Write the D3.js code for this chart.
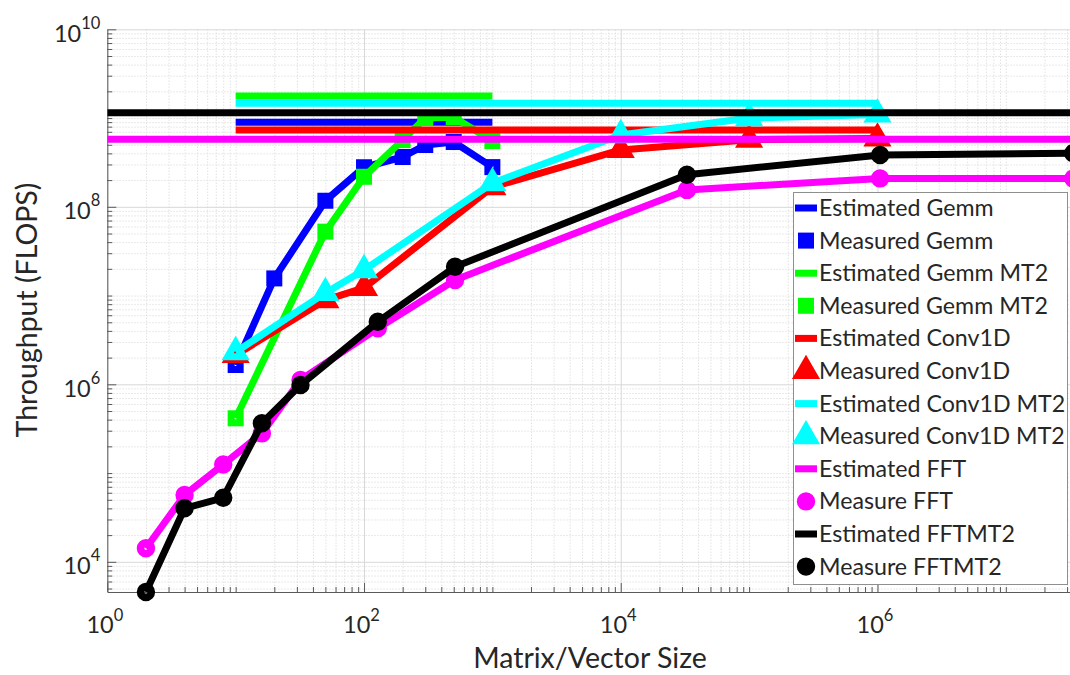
<!DOCTYPE html>
<html>
<head>
<meta charset="utf-8">
<script src="https://cdn.jsdelivr.net/npm/d3@7"></script>
<style>
  body { margin: 0; background: #fff; }
  svg { display: block; }
  text { font-family: Lato, "Open Sans", sans-serif; fill: #262626; }
</style>
</head>
<body>
<svg id="chart" width="1070" height="675"></svg>
<script>
// ---- Measured throughput (FLOPS) by matrix/vector size ----
const gemmSizes = [10, 20, 50, 100, 200, 300, 500, 1000];
const gemmMeasured = [1.65e6, 1.56e7, 1.17e8, 2.79e8, 3.64e8, 4.97e8, 5.37e8, 2.8e8];

const gemmMt2Sizes = [10, 50, 100, 200, 300, 500, 1000];
const gemmMt2Measured = [4.14e5, 5.25e7, 2.18e8, 5.65e8, 1.0e9, 1.02e9, 5.5e8];

const convSizes = [10, 50, 100, 1000, 1e4, 1e5, 1e6];
const convMeasured = [2.14e6, 8.9e6, 1.22e7, 1.67e8, 4.37e8, 5.7e8, 5.9e8];
const convMt2Measured = [2.31e6, 1.07e7, 1.94e7, 1.85e8, 6.44e8, 1.0e9, 1.1e9];

const fftSizes = [2, 4, 8, 16, 32, 128, 512, 32768, 1048576, 33554432];
const fftMeasured = [1.42e4, 5.66e4, 1.25e5, 2.8e5, 1.12e6, 4.27e6, 1.5e7, 1.55e8, 2.09e8, 2.08e8];
const fftMt2Measured = [4.57e3, 4.01e4, 5.27e4, 3.64e5, 9.82e5, 5.07e6, 2.11e7, 2.3e8, 3.84e8, 4.02e8];

// ---- Estimated peak throughput (constant), with the size range it spans ----
const gemmEstimated = 8.96e8,    gemmEstimatedSpan = [10, 1000];
const gemmMt2Estimated = 1.77e9, gemmMt2EstimatedSpan = [10, 1000];
const convEstimated = 7.33e8,    convEstimatedSpan = [10, 1e6];
const convMt2Estimated = 1.47e9, convMt2EstimatedSpan = [10, 1e6];
const fftEstimated = 5.77e8,     fftEstimatedSpan = [1, 33554432];
const fftMt2Estimated = 1.15e9,  fftMt2EstimatedSpan = [1, 33554432];

// ---- Axis tick values ----
const xMajorTicks = [1, 1e2, 1e4, 1e6];
const yMajorTicks = [1e4, 1e6, 1e8, 1e10];

// ---- Series, in drawing / legend order ----
const series = [
  { name: "Estimated Gemm",       color: "#0000ff", kind: "est", value: gemmEstimated,    span: gemmEstimatedSpan },
  { name: "Measured Gemm",        color: "#0000ff", kind: "meas", marker: "square",   xs: gemmSizes,    ys: gemmMeasured },
  { name: "Estimated Gemm MT2",   color: "#00ff00", kind: "est", value: gemmMt2Estimated, span: gemmMt2EstimatedSpan },
  { name: "Measured Gemm MT2",    color: "#00ff00", kind: "meas", marker: "square",   xs: gemmMt2Sizes, ys: gemmMt2Measured },
  { name: "Estimated Conv1D",     color: "#ff0000", kind: "est", value: convEstimated,    span: convEstimatedSpan },
  { name: "Measured Conv1D",      color: "#ff0000", kind: "meas", marker: "triangle", xs: convSizes,    ys: convMeasured },
  { name: "Estimated Conv1D MT2", color: "#00ffff", kind: "est", value: convMt2Estimated, span: convMt2EstimatedSpan },
  { name: "Measured Conv1D MT2",  color: "#00ffff", kind: "meas", marker: "triangle", xs: convSizes,    ys: convMt2Measured },
  { name: "Estimated FFT",        color: "#ff00ff", kind: "est", value: fftEstimated,     span: fftEstimatedSpan },
  { name: "Measure FFT",          color: "#ff00ff", kind: "meas", marker: "circle",   xs: fftSizes,     ys: fftMeasured },
  { name: "Estimated FFTMT2",     color: "#000000", kind: "est", value: fftMt2Estimated,  span: fftMt2EstimatedSpan },
  { name: "Measure FFTMT2",       color: "#000000", kind: "meas", marker: "circle",   xs: fftSizes,     ys: fftMt2Measured }
];

// ---- Layout ----
const plotLeft = 107.3, plotTop = 29.3, plotBottom = 592, plotRight = 1073.3;
const lineWidth = 7;

const svg = d3.select("#chart");

const xMax = d3.max(fftSizes);
const yMin = d3.min(fftMt2Measured);
const x = d3.scaleLog().domain([1, xMax]).range([plotLeft, plotRight]);
const y = d3.scaleLog().domain([yMin, 1e10]).range([plotBottom, plotTop]);

// minor positions: every k*10^n inside the domain that is not a labelled major
function minorValues(lo, hi, majors) {
  const out = [];
  for (let e = Math.floor(Math.log10(lo)); e <= Math.ceil(Math.log10(hi)); e++) {
    for (let k = 1; k < 10; k++) {
      const v = k * Math.pow(10, e);
      if (v < lo * 0.999 || v > hi * 1.001) continue;
      if (majors.some(m => Math.abs(m - v) / m < 1e-9)) continue;
      out.push(v);
    }
  }
  return out;
}
const xMinor = minorValues(1, xMax, xMajorTicks);
const yMinor = minorValues(yMin, 1e10, yMajorTicks);

// ---- Grid ----
const grid = svg.append("g");
function gridLayer(axis, transform, color, dash) {
  const g = grid.append("g").attr("transform", transform).call(axis);
  g.select(".domain").remove();
  g.selectAll(".tick line").attr("stroke", color).attr("stroke-width", 1)
    .attr("stroke-dasharray", dash);
  return g;
}
gridLayer(d3.axisBottom(x).tickValues(xMinor).tickSize(-(plotBottom - plotTop)).tickFormat(""),
  `translate(0,${plotBottom})`, "#e2e2e2", "1.5,1.5");
gridLayer(d3.axisLeft(y).tickValues(yMinor).tickSize(-(plotRight - plotLeft)).tickFormat(""),
  `translate(${plotLeft},0)`, "#e2e2e2", "1.5,1.5");
gridLayer(d3.axisBottom(x).tickValues(xMajorTicks).tickSize(-(plotBottom - plotTop)).tickFormat(""),
  `translate(0,${plotBottom})`, "#d8d8d8", null);
gridLayer(d3.axisLeft(y).tickValues(yMajorTicks).tickSize(-(plotRight - plotLeft)).tickFormat(""),
  `translate(${plotLeft},0)`, "#d8d8d8", null);

// ---- Axes ----
function powerLabels(sel, supSize, supDy) {
  sel.each(function (d) {
    const e = Math.round(Math.log10(d));
    const t = d3.select(this).text(null);
    t.append("tspan").text("10");
    t.append("tspan").attr("dy", supDy).attr("font-size", supSize).text(e);
  });
}

const axisColor = "#5a5a5a";
const xAxis = svg.append("g").attr("transform", `translate(0,${plotBottom})`)
  .call(d3.axisBottom(x).tickValues(xMajorTicks).tickSizeInner(-9).tickSizeOuter(0));
svg.append("g").attr("transform", `translate(0,${plotBottom})`)
  .call(d3.axisBottom(x).tickValues(xMinor).tickSizeInner(-5).tickSizeOuter(0).tickFormat(""))
  .call(g => g.select(".domain").remove())
  .selectAll(".tick line").attr("stroke", axisColor);
xAxis.select(".domain").attr("stroke", axisColor);
xAxis.selectAll(".tick line").attr("stroke", axisColor);
xAxis.selectAll(".tick text")
  .attr("y", 41).attr("dy", 0).attr("dx", -3)
  .attr("font-size", 23.5).attr("font-family", null).attr("fill", "#262626")
  .call(powerLabels, 16.5, -12);

const yAxis = svg.append("g").attr("transform", `translate(${plotLeft},0)`)
  .call(d3.axisLeft(y).tickValues(yMajorTicks).tickSizeInner(-9).tickSizeOuter(0));
svg.append("g").attr("transform", `translate(${plotLeft},0)`)
  .call(d3.axisLeft(y).tickValues(yMinor).tickSizeInner(-5).tickSizeOuter(0).tickFormat(""))
  .call(g => g.select(".domain").remove())
  .selectAll(".tick line").attr("stroke", axisColor);
yAxis.select(".domain").attr("stroke", axisColor);
yAxis.selectAll(".tick line").attr("stroke", axisColor);
yAxis.selectAll(".tick text")
  .attr("x", -7).attr("y", 12).attr("dy", 0)
  .attr("font-size", 23.5).attr("font-family", null).attr("fill", "#262626")
  .call(powerLabels, 16.5, -13);

// axis titles
svg.append("text")
  .attr("x", 590).attr("y", 668)
  .attr("text-anchor", "middle").attr("font-size", 28.5)
  .text("Matrix/Vector Size");
svg.append("text")
  .attr("transform", "translate(37,310) rotate(-90)")
  .attr("text-anchor", "middle").attr("font-size", 28.5)
  .text("Throughput (FLOPS)");

// ---- Marks ----
svg.append("clipPath").attr("id", "plot-clip")
  .append("rect").attr("x", plotLeft).attr("y", plotTop)
  .attr("width", plotRight - plotLeft).attr("height", plotBottom - plotTop);

const side = 9;            // square marker (stroke centreline)
const triSide = 16;        // triangle marker (stroke centreline)
const triH = triSide * Math.sqrt(3) / 2;
const circleR = 5.4;

function drawMarker(g, type, cx, cy, color, filled) {
  const fill = filled ? color : "none";
  if (type === "circle") {
    g.append("circle").attr("cx", cx).attr("cy", cy).attr("r", circleR)
      .attr("fill", fill).attr("stroke", color).attr("stroke-width", lineWidth + 0.6);
  } else if (type === "square") {
    g.append("rect").attr("x", cx - side / 2).attr("y", cy - side / 2)
      .attr("width", side).attr("height", side)
      .attr("fill", fill).attr("stroke", color).attr("stroke-width", lineWidth)
      .attr("stroke-linejoin", "miter");
  } else {
    const p = d3.path();
    p.moveTo(cx, cy - 2 * triH / 3);
    p.lineTo(cx + triSide / 2, cy + triH / 3);
    p.lineTo(cx - triSide / 2, cy + triH / 3);
    p.closePath();
    g.append("path").attr("d", p.toString())
      .attr("fill", fill).attr("stroke", color).attr("stroke-width", lineWidth)
      .attr("stroke-linejoin", "miter").attr("stroke-miterlimit", 10);
  }
}

const line = d3.line().x(d => x(d[0])).y(d => y(d[1]));
const marks = svg.append("g");

series.forEach(s => {
  const g = marks.append("g");
  if (s.kind === "est") {
    g.append("path")
      .attr("clip-path", "url(#plot-clip)")
      .attr("d", line([[s.span[0], s.value], [s.span[1], s.value]]))
      .attr("fill", "none").attr("stroke", s.color).attr("stroke-width", lineWidth)
      .attr("stroke-linecap", "butt");
  } else {
    const pts = s.xs.map((v, i) => [v, s.ys[i]]);
    g.append("path")
      .attr("clip-path", "url(#plot-clip)")
      .attr("d", line(pts))
      .attr("fill", "none").attr("stroke", s.color).attr("stroke-width", lineWidth)
      .attr("stroke-linejoin", "round").attr("stroke-linecap", "butt");
    pts.forEach(p => drawMarker(g, s.marker, x(p[0]), y(p[1]), s.color, false));
  }
});

// ---- Legend ----
const legend = svg.append("g");
const lgX = 793.5, lgY = 192.5, lgW = 274, lgH = 392, rowGap = 32.6, firstRow = 208;
legend.append("rect").attr("x", lgX).attr("y", lgY).attr("width", lgW).attr("height", lgH)
  .attr("fill", "#fff").attr("stroke", "#8f8f8f").attr("stroke-width", 1);

series.forEach((s, i) => {
  const cy = firstRow + i * rowGap;
  if (s.kind === "est") {
    legend.append("line").attr("x1", 795).attr("x2", 817).attr("y1", cy).attr("y2", cy)
      .attr("stroke", s.color).attr("stroke-width", lineWidth);
  } else {
    drawMarker(legend, s.marker, 806, cy, s.color, true);
  }
  legend.append("text").attr("x", 819).attr("y", cy + 8)
    .attr("font-size", 23.2).attr("fill", "#000").text(s.name);
});
</script>
</body>
</html>
